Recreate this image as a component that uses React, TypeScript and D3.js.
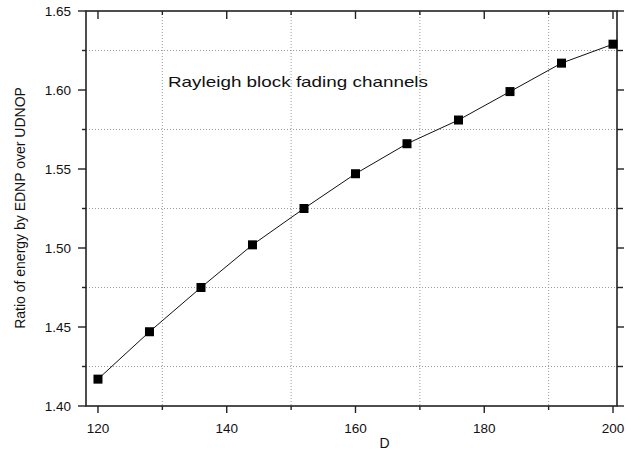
import React from "react";
import * as d3 from "d3";

// Ratio of energy (EDNP / UDNOP) against block length D
const dValues = [120, 128, 136, 144, 152, 160, 168, 176, 184, 192, 200];
const ratioValues = [1.417, 1.447, 1.475, 1.502, 1.525, 1.547, 1.566, 1.581, 1.599, 1.617, 1.629];

const xMajorTicks = [120, 140, 160, 180, 200];
const xMinorTicks = [130, 150, 170, 190];
const yMajorTicks = [1.4, 1.45, 1.5, 1.55, 1.6, 1.65];
const yMinorTicks = [1.425, 1.475, 1.525, 1.575, 1.625];

const xTitle = "D";
const yTitle = "Ratio of energy by EDNP over UDNOP";
const note = "Rayleigh block fading channels";

const W = 626;
const H = 453;
const frame = { left: 86, right: 617, top: 11, bottom: 406 };
const font = "'Liberation Sans', Arial, Helvetica, sans-serif";

export default function App() {
  const x = d3.scaleLinear().domain([118.14, 200.62]).range([frame.left, frame.right]);
  const y = d3.scaleLinear().domain([1.4, 1.65]).range([frame.bottom, frame.top]);

  const line = d3
    .line<number>()
    .x((_, i) => x(dValues[i]))
    .y((v) => y(v));

  const axisColor = "#222";
  const gridColor = "#9a9a9a";

  return (
    <svg
      width={W}
      height={H}
      style={{ position: "absolute", left: 0, top: 0, background: "#fff" }}
      fontFamily={font}
    >
      <rect x={0} y={0} width={W} height={H} fill="#fff" />

      {/* dotted grid at the minor positions */}
      <g stroke={gridColor} strokeWidth={1} strokeDasharray="1,2">
        {xMinorTicks.map((t) => (
          <line key={"gx" + t} x1={x(t)} x2={x(t)} y1={frame.top} y2={frame.bottom} />
        ))}
        {yMinorTicks.map((t) => (
          <line key={"gy" + t} x1={frame.left} x2={frame.right} y1={y(t)} y2={y(t)} />
        ))}
      </g>

      {/* frame */}
      <rect
        x={frame.left}
        y={frame.top}
        width={frame.right - frame.left}
        height={frame.bottom - frame.top}
        fill="none"
        stroke={axisColor}
        strokeWidth={1.6}
      />

      {/* ticks */}
      <g stroke={axisColor} strokeWidth={1.4}>
        {xMajorTicks.map((t) => (
          <g key={"xt" + t}>
            <line x1={x(t)} x2={x(t)} y1={frame.bottom} y2={frame.bottom + 7} />
            <line x1={x(t)} x2={x(t)} y1={frame.top} y2={frame.top + 8} />
          </g>
        ))}
        {xMinorTicks.map((t) => (
          <g key={"xm" + t}>
            <line x1={x(t)} x2={x(t)} y1={frame.bottom} y2={frame.bottom + 4} />
            <line x1={x(t)} x2={x(t)} y1={frame.top} y2={frame.top + 4} />
          </g>
        ))}
        {yMajorTicks.map((t) => (
          <g key={"yt" + t}>
            <line x1={frame.left - 8} x2={frame.left} y1={y(t)} y2={y(t)} />
            <line x1={frame.right} x2={frame.right + 7} y1={y(t)} y2={y(t)} />
          </g>
        ))}
        {yMinorTicks.map((t) => (
          <g key={"ym" + t}>
            <line x1={frame.left - 4} x2={frame.left} y1={y(t)} y2={y(t)} />
            <line x1={frame.right} x2={frame.right + 6} y1={y(t)} y2={y(t)} />
          </g>
        ))}
      </g>

      {/* tick labels */}
      <g fontSize={13.5} fill="#111">
        {xMajorTicks.map((t) => (
          <text key={"xl" + t} x={x(t)} y={frame.bottom + 27} textAnchor="middle">
            {t}
          </text>
        ))}
        {yMajorTicks.map((t) => (
          <text
            key={"yl" + t}
            x={frame.left - 15}
            y={y(t)}
            textAnchor="end"
            dominantBaseline="central"
          >
            {d3.format(".2f")(t)}
          </text>
        ))}
      </g>

      {/* axis titles */}
      <text x={x(164.5)} y={448} textAnchor="middle" fontSize={14} fill="#111">
        {xTitle}
      </text>
      <text
        transform={`translate(25, ${(89 + 327) / 2}) rotate(-90)`}
        textAnchor="middle"
        fontSize={14}
        fill="#111"
      >
        {yTitle}
      </text>

      {/* annotation */}
      <text
        x={168}
        y={87}
        fontSize={15}
        fill="#111"
        textLength={260}
        lengthAdjust="spacingAndGlyphs"
      >
        {note}
      </text>

      {/* series */}
      <path d={line(ratioValues) ?? ""} fill="none" stroke="#111" strokeWidth={1} />
      <g fill="#000">
        {ratioValues.map((v, i) => (
          <rect key={"m" + i} x={x(dValues[i]) - 4.5} y={y(v) - 4.5} width={9} height={9} />
        ))}
      </g>
    </svg>
  );
}
